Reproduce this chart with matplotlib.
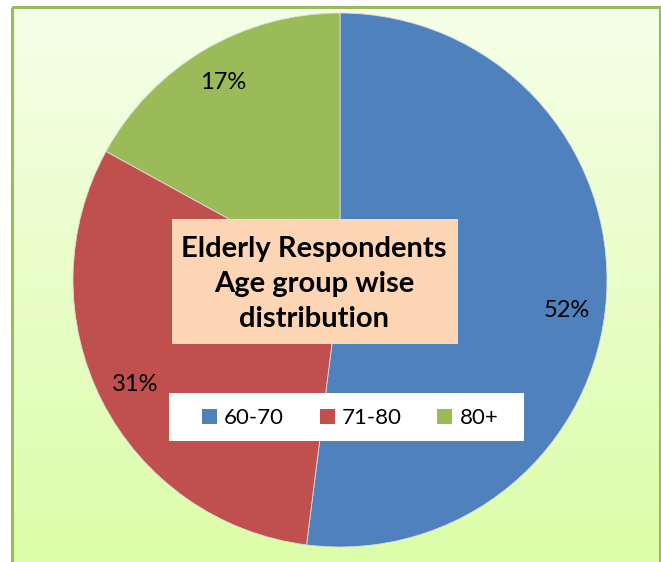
import numpy as np
import matplotlib
matplotlib.use("Agg")
import matplotlib.pyplot as plt
from matplotlib.patches import Rectangle
from matplotlib.colors import LinearSegmentedColormap

categories = ["60-70", "71-80", "80+"]
values = [52, 31, 17]
colors = ["#4F81BD", "#C0504D", "#9BBB59"]
title = "Elderly Respondents\nAge group wise\ndistribution"

W, H = 661, 562
fig = plt.figure(figsize=(W / 100, H / 100), dpi=100)
fig.patch.set_facecolor("white")

bg = fig.add_axes([0, 0, 1, 1])
bg.axis("off")
cmap = LinearSegmentedColormap.from_list("g", ["#F5FFE8", "#DCFDA8"])
grad = np.linspace(0, 1, 256).reshape(-1, 1)
bg.imshow(grad, cmap=cmap, extent=[12, 660, H + 2, 7], aspect="auto", zorder=0)
bg.add_patch(Rectangle((12, 7), 648, H, fill=False, edgecolor="#9BBB59", lw=2.2, zorder=1))
bg.set_xlim(0, W)
bg.set_ylim(H, 0)

cx, cy, r = 340, 280, 267
ax = fig.add_axes([(cx - r) / W, (H - cy - r) / H, 2 * r / W, 2 * r / H])
wedges, texts, autotexts = ax.pie(
    values, colors=colors, startangle=90, counterclock=False,
    autopct="%d%%", pctdistance=0.86,
    wedgeprops=dict(edgecolor="#dddddd", linewidth=0.6),
    textprops=dict(fontsize=17, color="black", family="Lato"),
)
# Excel places the big slice's label slightly lower
x0, y0 = autotexts[0].get_position()
autotexts[0].set_position((x0 - 0.01, y0 - 0.06))
ax.set_xlim(-1, 1)
ax.set_ylim(-1, 1)
ax.set_aspect("auto")
ax.axis("off")

ov = fig.add_axes([0, 0, 1, 1])
ov.axis("off")
ov.set_xlim(0, W)
ov.set_ylim(H, 0)
ov.patch.set_alpha(0)
ov.add_patch(Rectangle((172, 219), 286, 125, facecolor="#FCD5B4", edgecolor="none"))
ov.text(314, 284, title, ha="center", va="center", fontsize=21, fontweight="bold",
        family="Lato", linespacing=1.42)
ov.add_patch(Rectangle((169, 393), 355, 48, facecolor="white", edgecolor="none"))

leg = fig.legend(wedges, categories, ncol=3, loc="center",
                 bbox_to_anchor=(350 / W, 1 - 418 / H),
                 frameon=False, prop=dict(family="Lato", size=16),
                 handlelength=0.68, handleheight=0.68, handletextpad=0.32, columnspacing=1.6,
                 borderpad=0.0, borderaxespad=0)
for h in leg.legend_handles:
    h.set_edgecolor("none")

fig.savefig("out.png", dpi=100)
